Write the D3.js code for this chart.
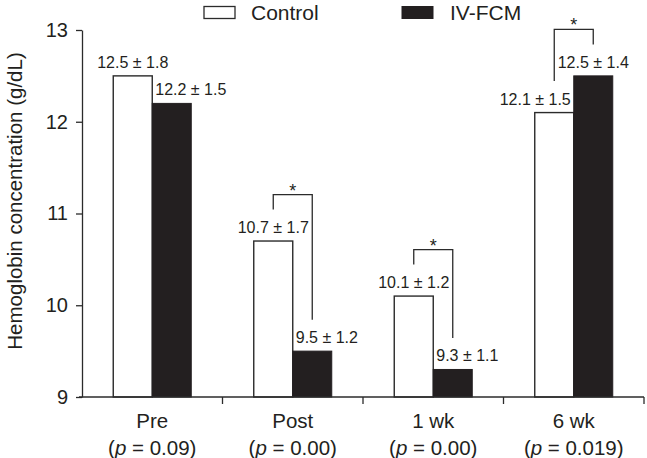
<!DOCTYPE html>
<html>
<head>
<meta charset="utf-8">
<script src="https://cdn.jsdelivr.net/npm/d3@7"></script>
<style>
  html, body { margin: 0; padding: 0; background: #fff; }
  svg { display: block; }
  text { font-family: "Liberation Sans", Arial, Helvetica, sans-serif; fill: #231f20; }
</style>
</head>
<body>
<svg id="chart" width="647" height="458"></svg>
<script>
// ---- data ----
const categories = ["Pre", "Post", "1 wk", "6 wk"];
const pValues = ["0.09", "0.00", "0.00", "0.019"];
const seriesNames = ["Control", "IV-FCM"];
const controlMeans = [12.5, 10.7, 10.1, 12.1];
const controlSD = [1.8, 1.7, 1.2, 1.5];
const ivfcmMeans = [12.2, 9.5, 9.3, 12.5];
const ivfcmSD = [1.5, 1.2, 1.1, 1.4];
const significant = [false, true, true, true];
const yTicks = [9, 10, 11, 12, 13];
const yLabel = "Hemoglobin concentration (g/dL)";

// ---- layout ----
const svg = d3.select("#chart");
const mLeft = 82, mRight = 644, mTop = 30, mBottom = 397;
const barW = 39;
const ink = "#231f20";
const lineCol = "#2b2b2b";

const x = d3.scaleBand().domain(categories).range([mLeft, mRight]).padding(0);
const y = d3.scaleLinear().domain([9, 13]).range([mBottom, mTop]);

// y axis
const yAxis = svg.append("g")
  .attr("transform", `translate(${mLeft},0)`)
  .call(d3.axisLeft(y).tickValues(yTicks).tickFormat(d3.format("d")).tickSize(6).tickPadding(8).tickSizeOuter(0));
yAxis.select(".domain").attr("stroke", lineCol).attr("stroke-width", 1.3);
yAxis.selectAll(".tick line").attr("stroke", lineCol).attr("stroke-width", 1.3);
yAxis.selectAll(".tick text").attr("font-size", 20).attr("fill", ink)
  .style("font-family", "'Liberation Sans', Arial, sans-serif");

// y label
svg.append("text")
  .attr("transform", `translate(21.5, ${(50 + 352) / 2}) rotate(-90)`)
  .attr("text-anchor", "middle")
  .attr("font-size", 20.5)
  .text(yLabel);

// bars data
const rows = categories.map((c, i) => ({
  cat: c, i,
  c: controlMeans[i], cSD: controlSD[i],
  v: ivfcmMeans[i], vSD: ivfcmSD[i],
  sig: significant[i], p: pValues[i]
}));
const cx = d => x(d.cat) + x.bandwidth() / 2;

// control bars
svg.append("g").selectAll("rect").data(rows).join("rect")
  .attr("x", d => cx(d) - barW)
  .attr("y", d => y(d.c))
  .attr("width", barW)
  .attr("height", d => y(9) - y(d.c))
  .attr("fill", "#fff")
  .attr("stroke", lineCol)
  .attr("stroke-width", 1.4);

// ivfcm bars
svg.append("g").selectAll("rect").data(rows).join("rect")
  .attr("x", d => cx(d))
  .attr("y", d => y(d.v))
  .attr("width", barW)
  .attr("height", d => y(9) - y(d.v))
  .attr("fill", ink)
  .attr("stroke", ink)
  .attr("stroke-width", 1);

// x axis
const xAxis = svg.append("g")
  .attr("transform", `translate(0,${mBottom})`);
xAxis.append("line").attr("x1", mLeft - 3).attr("x2", mRight).attr("y1", 0).attr("y2", 0)
  .attr("stroke", lineCol).attr("stroke-width", 1.3);
xAxis.selectAll(".xt").data(categories).join("line")
  .attr("x1", d => x(d) + x.bandwidth()).attr("x2", d => x(d) + x.bandwidth())
  .attr("y1", 0).attr("y2", 7)
  .attr("stroke", lineCol).attr("stroke-width", 1.3);

// x labels
const xl = svg.append("g");
xl.selectAll(".cat").data(rows).join("text")
  .attr("x", d => cx(d)).attr("y", 428)
  .attr("text-anchor", "middle").attr("font-size", 20.5)
  .text(d => d.cat);
const pl = xl.selectAll(".p").data(rows).join("text")
  .attr("x", d => cx(d)).attr("y", 455)
  .attr("text-anchor", "middle").attr("font-size", 20.5);
pl.append("tspan").text("(");
pl.append("tspan").attr("font-style", "italic").text("p");
pl.append("tspan").text(d => " = " + d.p + ")");

// value labels
const fmt = (m, s) => `${m.toFixed(1)} \u00B1 ${s.toFixed(1)}`;
const labelGap = 8, capH = 11.5, fs = 16;

rows.forEach(d => {
  const xC = cx(d) - barW / 2, xV = cx(d) + barW / 2;
  const cTopY = y(d.c) - labelGap, vTopY = y(d.v) - labelGap;
  // control label
  let cAnchor = "middle", cX = xC;
  if (d.v > d.c) { cAnchor = "end"; cX = cx(d) - 3; }
  svg.append("text").attr("x", cX).attr("y", cTopY).attr("text-anchor", cAnchor)
    .attr("font-size", fs).text(fmt(d.c, d.cSD));
  // ivfcm label
  let vAnchor = "middle", vX = xV;
  if (d.v < d.c) { vAnchor = "start"; vX = cx(d) + 3; }
  svg.append("text").attr("x", vX).attr("y", vTopY).attr("text-anchor", vAnchor)
    .attr("font-size", fs).text(fmt(d.v, d.vSD));

  if (d.sig) {
    const cLabTop = cTopY - capH, vLabTop = vTopY - capH;
    const bTop = Math.min(cLabTop, vLabTop) - 27;
    const lb = cLabTop - 12, rb = vLabTop - 12;
    svg.append("path")
      .attr("d", `M${xC},${lb}V${bTop}H${xV}V${rb}`)
      .attr("fill", "none").attr("stroke", lineCol).attr("stroke-width", 1.3);
    svg.append("text").attr("x", (xC + xV) / 2).attr("y", bTop + 2)
      .attr("text-anchor", "middle").attr("font-size", 18).text("*");
  }
});

// legend
const legend = svg.append("g");
legend.append("rect").attr("x", 204).attr("y", 6.5).attr("width", 31).attr("height", 12)
  .attr("fill", "#fff").attr("stroke", lineCol).attr("stroke-width", 1.3);
legend.append("text").attr("x", 251).attr("y", 19.5).attr("font-size", 21).text(seriesNames[0]);
legend.append("rect").attr("x", 402).attr("y", 6.5).attr("width", 31).attr("height", 12)
  .attr("fill", ink).attr("stroke", ink).attr("stroke-width", 1);
legend.append("text").attr("x", 450).attr("y", 19.5).attr("font-size", 21).text(seriesNames[1]);
</script>
</body>
</html>
